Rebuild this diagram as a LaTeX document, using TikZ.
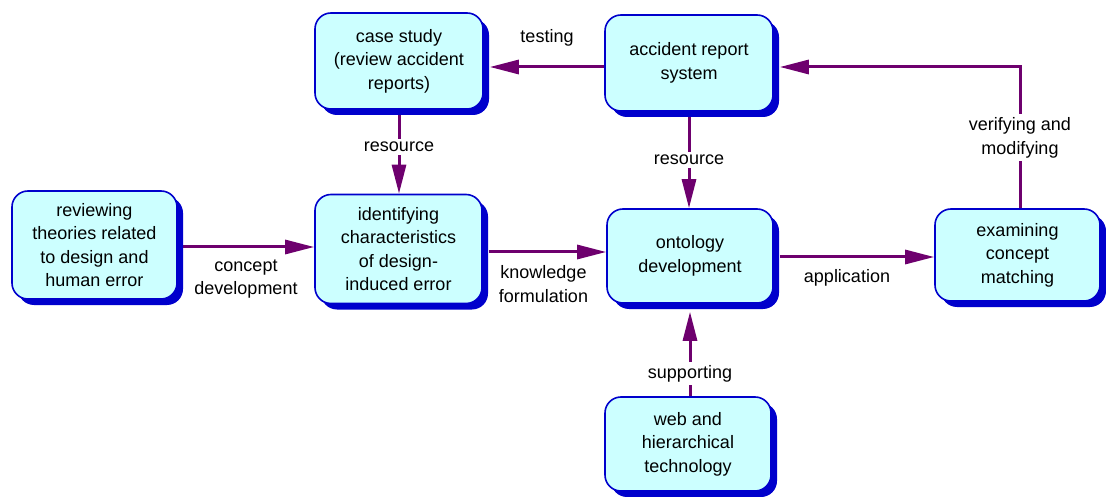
\documentclass[tikz,border=0pt]{standalone}
\usepackage{fontspec}
\setmainfont{Liberation Sans}
\usetikzlibrary{arrows.meta,shadows,calc,backgrounds}
\definecolor{boxfill}{RGB}{204,255,255}
\definecolor{boxline}{RGB}{0,0,204}
\definecolor{flowcol}{RGB}{110,0,110}
\begin{document}
\begin{tikzpicture}[x=1pt,y=-1pt,
  font=\fontsize{18}{23.5}\selectfont,
  stage/.style={draw=boxline, line width=1.6pt, fill=boxfill, rounded corners=16pt,
    align=center, inner sep=0pt,
    drop shadow={shadow xshift=6pt, shadow yshift=-6pt, fill=boxline, opacity=1}},
  flow/.style={draw=flowcol, line width=3pt, -{Triangle[length=29pt,width=14pt]}},
  tag/.style={fill=white, inner sep=3pt, align=center},
  note/.style={inner sep=2pt, align=center},
]
\useasboundingbox (0,0) rectangle (1106,497);

% stages of the study
\node[stage, minimum width=168pt, minimum height=96pt] (case) at (399,61)
  {case study\\(review accident\\reports)};
\node[stage, minimum width=168pt, minimum height=96pt] (acc) at (689,63)
  {accident report\\system};
\node[stage, minimum width=165pt, minimum height=108pt] (rev) at (94.5,245)
  {reviewing\\theories related\\to design and\\human error};
\node[stage, minimum width=167pt, minimum height=109pt] (ident) at (398.5,249)
  {identifying\\characteristics\\of design-\\induced error};
\node[stage, minimum width=166pt, minimum height=94pt] (onto) at (690,256)
  {ontology\\development};
\node[stage, minimum width=165pt, minimum height=92pt] (exam) at (1017.5,255)
  {examining\\concept\\matching};
\node[stage, minimum width=166pt, minimum height=94pt] (web) at (688,444)
  {web and\\hierarchical\\technology};

% connectors
\begin{scope}[on background layer]
\draw[flow] ($(acc.west)+(0,4)$) -- node[note, above=17pt]{testing} ($(case.east)+(6,6)$);
\draw[flow] (case.south) -- node[tag, pos=0.44]{resource} (case.south |- ident.north);
\draw[flow] (acc.south) -- node[tag, pos=0.5]{resource} (acc.south |- onto.north);
\draw[flow] ($(rev.east)+(0,2)$) -- node[note, below=9pt]{concept\\development} ($(ident.west)+(0,-2)$);
\draw[flow] ($(ident.east)+(6,3)$) -- node[note, below=10pt, xshift=-4pt]{knowledge\\formulation} ($(onto.west)+(0,-4)$);
\draw[flow] ($(onto.east)+(6,1)$) -- node[note, below=9pt, xshift=-10pt]{application} ($(exam.west)+(0,2)$);
\draw[flow] (web.north -| onto.south) -- node[tag, pos=0.27]{supporting} ($(onto.south)+(0,8)$);
\draw[flow] ($(exam.north)+(2.5,0)$) |- node[tag, pos=0.25]{verifying and\\modifying} ($(acc.east)+(6,4)$);
\end{scope}
\end{tikzpicture}
\end{document}
